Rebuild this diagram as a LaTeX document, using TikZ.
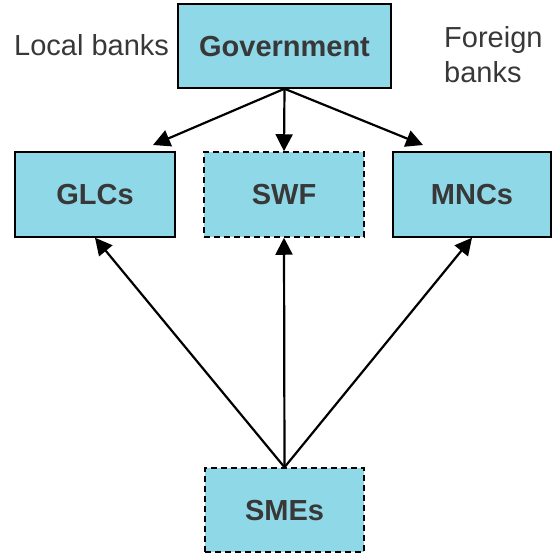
\documentclass[tikz,border=0pt]{standalone}
\usepackage{fontspec}
\setmainfont{Liberation Sans}
\usetikzlibrary{arrows.meta,calc}
\definecolor{boxfill}{HTML}{8FD8E7}
\definecolor{txt}{HTML}{383838}
\tikzset{
  box/.style={draw=black, fill=boxfill, line width=1.5pt, minimum width=160pt, minimum height=85pt,
    inner sep=0pt, font=\fontsize{29}{32}\selectfont\bfseries, text=txt, text depth=0pt},
  dbox/.style={box, dash pattern=on 6pt off 4pt},
  lbl/.style={font=\fontsize{29}{35}\selectfont, text=txt, inner sep=0pt},
  conn/.style={line width=2.2pt, -{Triangle[length=17pt,width=17pt]}}
}
\begin{document}
\begin{tikzpicture}[x=1pt,y=-1pt]
\useasboundingbox (0,0) rectangle (552,557);
\node[box, minimum width=213pt, minimum height=84pt] (gov) at (284.5,46) {Government};
\node[box] (glc) at (95,194.5) {GLCs};
\node[dbox] (swf) at (284,194.5) {SWF};
\node[box, minimum width=158pt] (mnc) at (472,194.5) {MNCs};
\node[dbox, minimum width=159pt, minimum height=84pt] (sme) at (284.5,510) {SMEs};
\node[lbl, anchor=base west] (loc) at (14,55) {Local banks};
\node[lbl, anchor=base west] (for1) at (444,47) {Foreign};
\node[lbl, anchor=base west] (for2) at (444,82) {banks};
\coordinate (g1) at (153,145);
\coordinate (m1) at (423,145);
\draw[conn] (gov.south) -- (g1);
\draw[conn] (gov.south) -- (swf.north);
\draw[conn] (gov.south) -- (m1);
\draw[conn] (sme.north) -- (glc.south);
\draw[conn] (sme.north) -- (swf.south);
\draw[conn] (sme.north) -- (mnc.south);
\end{tikzpicture}
\end{document}
